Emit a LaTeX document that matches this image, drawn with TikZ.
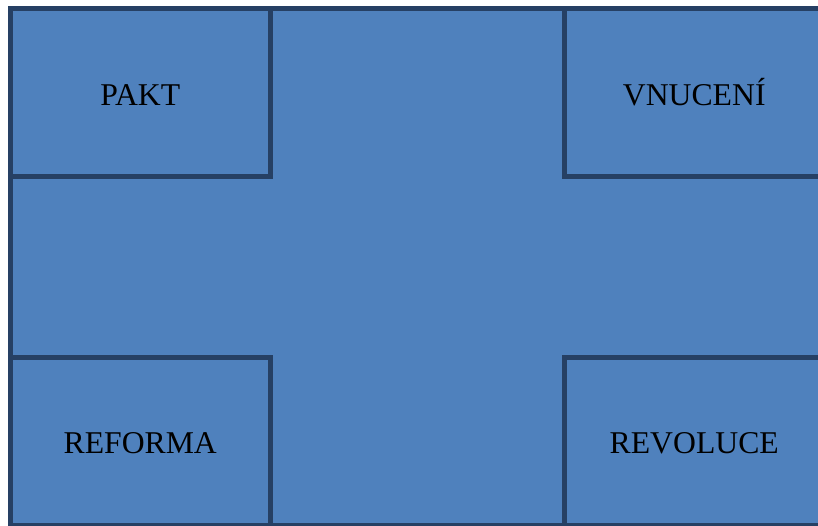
\documentclass[tikz,border=0pt]{standalone}
\usepackage{fontspec}
\setmainfont{Liberation Serif}
\definecolor{vypln}{RGB}{79,129,189}
\definecolor{okraj}{RGB}{38,64,100}

\begin{document}
\begin{tikzpicture}[x=1pt,y=-1pt,
  plocha/.style={draw=okraj,fill=vypln,line width=5pt,inner sep=0pt,outer sep=0pt},
  pole/.style={plocha,minimum width=259.5pt,minimum height=168pt,
    text height=25pt,text depth=0pt,font=\fontsize{31.7}{38}\selectfont}]

\useasboundingbox (0,0) rectangle (818,526);
\clip (0,0) rectangle (818,526);

\node[plocha,minimum width=819.5pt,minimum height=516pt] (zaklad) at (420.25,267) {};

\node[pole] (pakt) at (140.25,93) {PAKT};
\node[pole] (vnuceni) at (694.25,93) {VNUCENÍ};
\node[pole] (reforma) at (140.25,441) {REFORMA};
\node[pole] (revoluce) at (694.25,441) {REVOLUCE};

\end{tikzpicture}
\end{document}
